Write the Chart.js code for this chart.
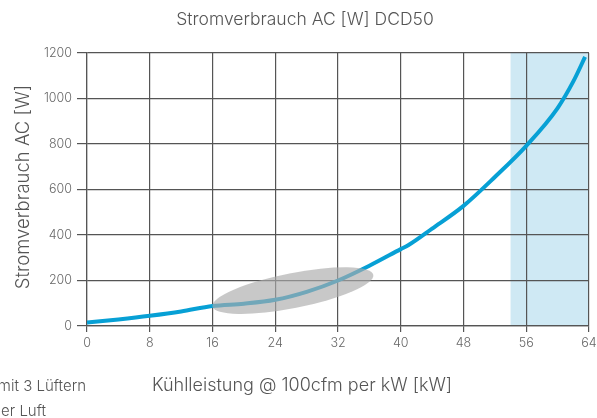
<!DOCTYPE html>
<html>
<head>
<meta charset="utf-8">
<script src="https://cdn.jsdelivr.net/npm/chart.js@4/dist/chart.umd.min.js"></script>
<style>
  html, body { margin: 0; padding: 0; background: #fff; }
  #wrap { width: 597px; height: 418px; }
</style>
</head>
<body>
<div id="wrap"><canvas id="c" width="597" height="418"></canvas></div>
<script>
// Cooling capacity [kW] and AC power draw [W] of the DCD50
const kw   = [0, 4, 8, 12, 16, 20, 24, 28, 32, 36, 40, 41, 44, 48, 52, 56, 60, 62, 63.5];
const watt = [15, 29, 45, 64, 88, 98, 115, 150, 200, 265, 338, 356, 428, 528, 655, 792, 958, 1075, 1183];

// Axis ticks
const xTicks = [0, 8, 16, 24, 32, 40, 48, 56, 64];
const yTicks = [0, 200, 400, 600, 800, 1000, 1200];

// Highlighted capacity range [kW]
const highlightRange = [54, 64];

// Marked operating region: from/to points [kW, W]
const regionFrom = [16, 86];
const regionTo   = [36.5, 225];

const FONT = 'Inter, "Noto Sans", sans-serif';
const GRID = '#555555';
const TEXT = '#555555';

const highlightPlugin = {
  id: 'highlight',
  beforeDraw(chart) {
    const { ctx, chartArea, scales } = chart;
    const x0 = scales.x.getPixelForValue(highlightRange[0]);
    const x1 = scales.x.getPixelForValue(highlightRange[1]);
    ctx.save();
    ctx.fillStyle = '#cfe9f4';
    ctx.fillRect(x0, chartArea.top, x1 - x0, chartArea.bottom - chartArea.top);
    ctx.restore();
  }
};

const regionPlugin = {
  id: 'region',
  afterDatasetsDraw(chart) {
    const { ctx, scales } = chart;
    const ax = scales.x.getPixelForValue(regionFrom[0]);
    const ay = scales.y.getPixelForValue(regionFrom[1]);
    const bx = scales.x.getPixelForValue(regionTo[0]);
    const by = scales.y.getPixelForValue(regionTo[1]);
    const cx = (ax + bx) / 2, cy = (ay + by) / 2;
    const rx = Math.hypot(bx - ax, by - ay) / 2;
    const ang = Math.atan2(by - ay, bx - ax);
    ctx.save();
    ctx.fillStyle = 'rgba(170,170,170,0.65)';
    ctx.beginPath();
    ctx.ellipse(cx, cy, rx, 17.5, ang, 0, Math.PI * 2);
    ctx.fill();
    ctx.restore();
  }
};

// Chart title, axis titles and footnote lines
const captionPlugin = {
  id: 'captions',
  afterDraw(chart) {
    const { ctx } = chart;
    ctx.save();
    ctx.fillStyle = TEXT;
    ctx.textBaseline = 'middle';
    ctx.textAlign = 'center';
    ctx.font = '300 17.5px ' + FONT;
    ctx.fillText('Stromverbrauch AC [W] DCD50', 305, 20);
    ctx.font = '300 18px ' + FONT;
    ctx.fillText('Kühlleistung @ 100cfm per kW [kW]', 302, 386);
    ctx.save();
    ctx.translate(23, 187);
    ctx.rotate(-Math.PI / 2);
    ctx.font = '300 18.5px ' + FONT;
    ctx.fillText('Stromverbrauch AC [W]', 0, 0);
    ctx.restore();
    ctx.font = '300 15px ' + FONT;
    ctx.textAlign = 'right';
    ctx.fillText('mit 3 Lüftern', 86, 386);
    ctx.fillText('er Luft', 46, 411);
    ctx.restore();
  }
};

const tickFont = { family: FONT, size: 12.5, weight: 300 };

new Chart(document.getElementById('c'), {
  type: 'line',
  data: {
    datasets: [{
      data: kw.map((x, i) => ({ x, y: watt[i] })),
      borderColor: '#07a0d5',
      borderWidth: 4,
      pointRadius: 0,
      fill: false,
      cubicInterpolationMode: 'monotone'
    }]
  },
  options: {
    responsive: false,
    animation: false,
    layout: { padding: { left: 0, right: 8, top: 53, bottom: 62 } },
    plugins: {
      legend: { display: false },
      tooltip: { enabled: false },
      title: { display: false }
    },
    scales: {
      x: {
        type: 'linear',
        min: 0,
        max: 64,
        afterBuildTicks(scale) { scale.ticks = xTicks.map(v => ({ value: v })); },
        afterFit(scale) { scale.height = 30; scale.paddingRight = 0; scale.paddingLeft = 0; },
        ticks: { color: '#666', font: tickFont, padding: 4, maxRotation: 0, callback: v => String(v) },
        grid: { color: GRID, lineWidth: 1.2, tickLength: 6 },
        border: { color: GRID, width: 1.2 }
      },
      y: {
        min: 0,
        max: 1200,
        afterBuildTicks(scale) { scale.ticks = yTicks.map(v => ({ value: v })); },
        afterFit(scale) { scale.width = 87; scale.paddingTop = 0; scale.paddingBottom = 0; },
        ticks: { color: '#666', font: tickFont, padding: 5, callback: v => String(v) },
        grid: { color: GRID, lineWidth: 1.2, tickLength: 10 },
        border: { color: GRID, width: 1.2 }
      }
    }
  },
  plugins: [highlightPlugin, regionPlugin, captionPlugin]
});
</script>
</body>
</html>
